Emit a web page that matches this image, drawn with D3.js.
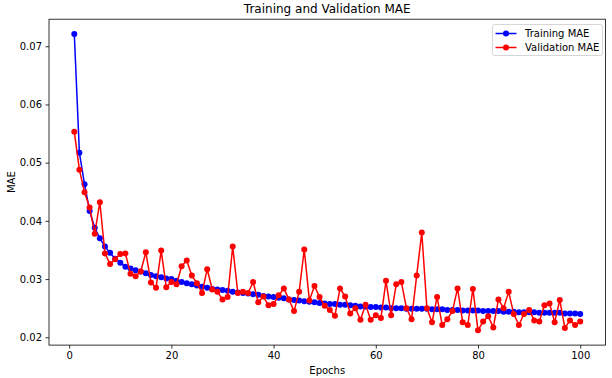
<!DOCTYPE html>
<html>
<head>
<meta charset="utf-8">
<script src="https://cdn.jsdelivr.net/npm/d3@7"></script>
<style>
  html, body { margin: 0; padding: 0; background: #fff; }
  svg { display: block; }
  text { font-family: "DejaVu Sans", sans-serif; fill: #000; }
</style>
</head>
<body>
<svg id="chart" width="612" height="378"></svg>
<script>
const epochs = d3.range(1, 101);
const trainingMAE = [
  0.0721, 0.0517, 0.0463, 0.0417, 0.0388, 0.0370, 0.0356, 0.0345, 0.0335, 0.0328,
  0.0321, 0.0318, 0.0315, 0.0313, 0.0310, 0.0307, 0.0305, 0.0303, 0.0301, 0.0300,
  0.0297, 0.0295, 0.0293, 0.0291, 0.0289, 0.0287, 0.0285, 0.0283, 0.0282, 0.0281,
  0.0280, 0.0278, 0.0277, 0.0276, 0.0275, 0.0274, 0.0273, 0.0271, 0.0270, 0.0269,
  0.0268, 0.0267, 0.0265, 0.0264, 0.0263, 0.0262, 0.0261, 0.0260, 0.0259, 0.0258,
  0.0257, 0.0257, 0.0256, 0.0256, 0.0255, 0.0254, 0.0253, 0.0253, 0.0252, 0.0252,
  0.0251, 0.0251, 0.0250, 0.0250, 0.0250, 0.0249, 0.0249, 0.0249, 0.0249, 0.0249,
  0.0248, 0.0248, 0.0248, 0.0247, 0.0247, 0.0247, 0.0246, 0.0246, 0.0246, 0.0246,
  0.0245, 0.0245, 0.0245, 0.0245, 0.0244, 0.0244, 0.0244, 0.0243, 0.0243, 0.0243,
  0.0243, 0.0242, 0.0242, 0.0242, 0.0242, 0.0242, 0.0241, 0.0241, 0.0241, 0.0240
];
const validationMAE = [
  0.0553, 0.0488, 0.0449, 0.0423, 0.0378, 0.0432, 0.0344, 0.0326, 0.0334, 0.0343,
  0.0344, 0.0309, 0.0305, 0.0313, 0.0346, 0.0294, 0.0285, 0.0349, 0.0286, 0.0295,
  0.0291, 0.0322, 0.0332, 0.0306, 0.0293, 0.0276, 0.0317, 0.0282, 0.0278, 0.0265,
  0.0269, 0.0356, 0.0276, 0.0278, 0.0276, 0.0295, 0.0260, 0.0270, 0.0255, 0.0257,
  0.0272, 0.0284, 0.0265, 0.0245, 0.0278, 0.0351, 0.0263, 0.0288, 0.0269, 0.0254,
  0.0247, 0.0237, 0.0284, 0.0270, 0.0241, 0.0250, 0.0230, 0.0256, 0.0230, 0.0238,
  0.0233, 0.0297, 0.0238, 0.0291, 0.0295, 0.0250, 0.0231, 0.0306, 0.0380, 0.0250,
  0.0226, 0.0269, 0.0221, 0.0231, 0.0245, 0.0284, 0.0226, 0.0221, 0.0283, 0.0212,
  0.0227, 0.0236, 0.0217, 0.0265, 0.0250, 0.0278, 0.0240, 0.0221, 0.0240, 0.0247,
  0.0229, 0.0227, 0.0255, 0.0258, 0.0226, 0.0264, 0.0216, 0.0229, 0.0221, 0.0227
];
const xTicks = [0, 20, 40, 60, 80, 100];
const yTicks = [0.02, 0.03, 0.04, 0.05, 0.06, 0.07];
const seriesNames = ["Training MAE", "Validation MAE"];
const seriesColors = ["#0000ff", "#ff0000"];
const titleText = "Training and Validation MAE";
const xLabelText = "Epochs";
const yLabelText = "MAE";

const svg = d3.select("#chart");
const L = 49, R = 605.5, T = 19.2, B = 345.1;

const xMin = d3.min(epochs), xMax = d3.max(epochs);
const xPad = (xMax - xMin) * 0.05;
const allVals = trainingMAE.concat(validationMAE);
const yMinD = d3.min(allVals), yMaxD = d3.max(allVals);
const yPad = (yMaxD - yMinD) * 0.05;

const x = d3.scaleLinear().domain([xMin - xPad, xMax + xPad]).range([L, R]);
const y = d3.scaleLinear().domain([yMinD - yPad, yMaxD + yPad]).range([B, T]);

const fs = 10;

// axes
const xAxis = d3.axisBottom(x).tickValues(xTicks).tickFormat(d3.format("d")).tickSize(3.5).tickPadding(3.5);
const yAxis = d3.axisLeft(y).tickValues(yTicks).tickFormat(d3.format(".2f")).tickSize(3.5).tickPadding(3.5);

const gx = svg.append("g").attr("transform", `translate(0,${B})`).call(xAxis);
const gy = svg.append("g").attr("transform", `translate(${L},0)`).call(yAxis);
[gx, gy].forEach(g => {
  g.select(".domain").remove();
  g.selectAll(".tick line").attr("stroke", "#000").attr("stroke-width", 0.8);
  g.selectAll(".tick text").style("font-family", "DejaVu Sans").style("font-size", fs + "px").attr("fill", "#000");
});

// series
const series = [trainingMAE, validationMAE];
const line = d3.line().x((d, i) => x(epochs[i])).y(d => y(d));
series.forEach((vals, si) => {
  const g = svg.append("g");
  g.append("path").datum(vals)
    .attr("d", line)
    .attr("fill", "none")
    .attr("stroke", seriesColors[si])
    .attr("stroke-width", 1.5)
    .attr("stroke-linejoin", "round");
  g.selectAll("circle").data(vals).enter().append("circle")
    .attr("cx", (d, i) => x(epochs[i]))
    .attr("cy", d => y(d))
    .attr("r", 3)
    .attr("fill", seriesColors[si]);
});

// frame
svg.append("rect").attr("x", L).attr("y", T).attr("width", R - L).attr("height", B - T)
  .attr("fill", "none").attr("stroke", "#000").attr("stroke-width", 0.8);

// title and labels
svg.append("text").attr("x", (L + R) / 2).attr("y", 13).attr("text-anchor", "middle")
  .style("font-size", "12px").text(titleText);
svg.append("text").attr("x", (L + R) / 2).attr("y", 374).attr("text-anchor", "middle")
  .style("font-size", fs + "px").text(xLabelText);
svg.append("text").attr("transform", `translate(15,${(T + B) / 2}) rotate(-90)`)
  .attr("text-anchor", "middle").style("font-size", fs + "px").text(yLabelText);

// legend
const lg = svg.append("g");
lg.append("rect").attr("x", 492.5).attr("y", 24.5).attr("width", 110).attr("height", 31)
  .attr("rx", 2).attr("fill", "#fff").attr("fill-opacity", 0.8)
  .attr("stroke", "#cccccc").attr("stroke-width", 0.8);
seriesNames.forEach((name, i) => {
  const yy = 33.5 + i * 14;
  lg.append("line").attr("x1", 495.5).attr("x2", 516.5).attr("y1", yy).attr("y2", yy)
    .attr("stroke", seriesColors[i]).attr("stroke-width", 1.5);
  lg.append("circle").attr("cx", 506).attr("cy", yy).attr("r", 3).attr("fill", seriesColors[i]);
  lg.append("text").attr("x", 525).attr("y", yy + 3.5).style("font-size", fs + "px").text(name);
});
</script>
</body>
</html>
